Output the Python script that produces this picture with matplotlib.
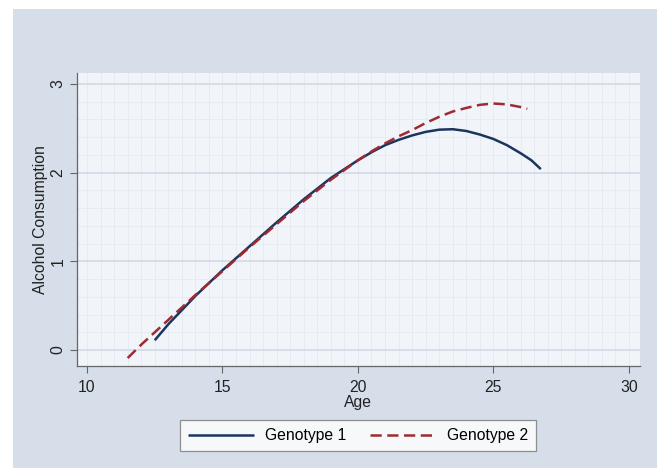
import matplotlib
matplotlib.use("Agg")
import matplotlib.pyplot as plt
from matplotlib.patches import Rectangle

# Data
age_g1 = [12.5, 13, 14, 15, 16, 17, 18, 19, 20, 20.5, 21, 21.5, 22, 22.5, 23, 23.5, 24, 24.5, 25, 25.5, 26, 26.4, 26.75]
val_g1 = [0.11, 0.29, 0.61, 0.90, 1.17, 1.44, 1.70, 1.94, 2.14, 2.23, 2.31, 2.37, 2.42, 2.46, 2.485, 2.49, 2.47, 2.43, 2.38, 2.31, 2.22, 2.14, 2.04]

age_g2 = [11.5, 12, 12.5, 13, 14, 15, 16, 17, 18, 19, 20, 20.5, 21, 21.5, 22, 22.5, 23, 23.5, 24, 24.5, 25, 25.5, 26, 26.25]
val_g2 = [-0.09, 0.06, 0.20, 0.34, 0.62, 0.89, 1.16, 1.42, 1.68, 1.92, 2.14, 2.24, 2.33, 2.41, 2.48, 2.56, 2.63, 2.69, 2.73, 2.765, 2.78, 2.77, 2.74, 2.72]

x_ticks = [10, 15, 20, 25, 30]
y_ticks = [0, 1, 2, 3]
series_labels = ["Genotype 1", "Genotype 2"]

plt.rcParams['font.family'] = ['Liberation Sans', 'DejaVu Sans']
FS = 11.3

W, H = 657, 468
fig = plt.figure(figsize=(W / 100, H / 100), dpi=100)
fig.patch.set_facecolor("white")
# outer graph region background
fig.patches.append(Rectangle((13 / W, 0), 1 - 13 / W, 1 - 9 / H, transform=fig.transFigure,
                             facecolor="#d6deea", edgecolor="none", zorder=-10))

left, right, top, bottom = 76.7, 640, 73, 366
ax = fig.add_axes([left / W, 1 - bottom / H, (right - left) / W, (bottom - top) / H])
ax.set_facecolor("#f1f4f9")

ax.set_xlim(9.62, 30.41)
ax.set_ylim(-0.18, 3.124)

# faint minor grid
for xv in [i * 0.5 for i in range(19, 62)]:
    ax.axvline(xv, color="#e4e9f1", lw=0.6, zorder=0)
for yv in [i * 0.2 for i in range(-1, 16)]:
    ax.axhline(yv, color="#e6eaf2", lw=0.6, zorder=0)
# major horizontal grid
for yv in y_ticks:
    ax.axhline(yv, color="#d3dbe8", lw=1.2, zorder=1)

ax.plot(age_g1, val_g1, color="#1b355f", lw=1.8, solid_capstyle="butt", zorder=3, label=series_labels[0])
ax.plot(age_g2, val_g2, color="#9e2b30", lw=1.8, dashes=(4.5, 2.2), zorder=4, label=series_labels[1])

ax.set_xticks(x_ticks)
ax.set_yticks(y_ticks)
ax.set_yticklabels([str(v) for v in y_ticks], rotation=90, va="center")
ax.tick_params(axis="both", direction="out", length=5, width=0.8, color="#666666",
               labelsize=FS, labelcolor="#222222", pad=3)
ax.tick_params(axis="x", pad=5)

for s in ["top", "right"]:
    ax.spines[s].set_visible(False)
for s in ["left", "bottom"]:
    ax.spines[s].set_color("#666666")
    ax.spines[s].set_linewidth(0.9)

ax.set_xlabel("Age", fontsize=FS, color="#222222", labelpad=0)
ax.set_ylabel("Alcohol Consumption", fontsize=FS, color="#222222", labelpad=2)

leg = fig.legend(loc="center", bbox_to_anchor=(358 / W, 1 - 435.5 / H), ncol=2,
                 frameon=True, fancybox=False, fontsize=FS, handlelength=4.25,
                 columnspacing=1.55, handletextpad=0.65, borderpad=0.5)
leg.get_frame().set_edgecolor("#777777")
leg.get_frame().set_linewidth(0.9)
leg.get_frame().set_facecolor("white")

fig.savefig("out.png", dpi=100)
